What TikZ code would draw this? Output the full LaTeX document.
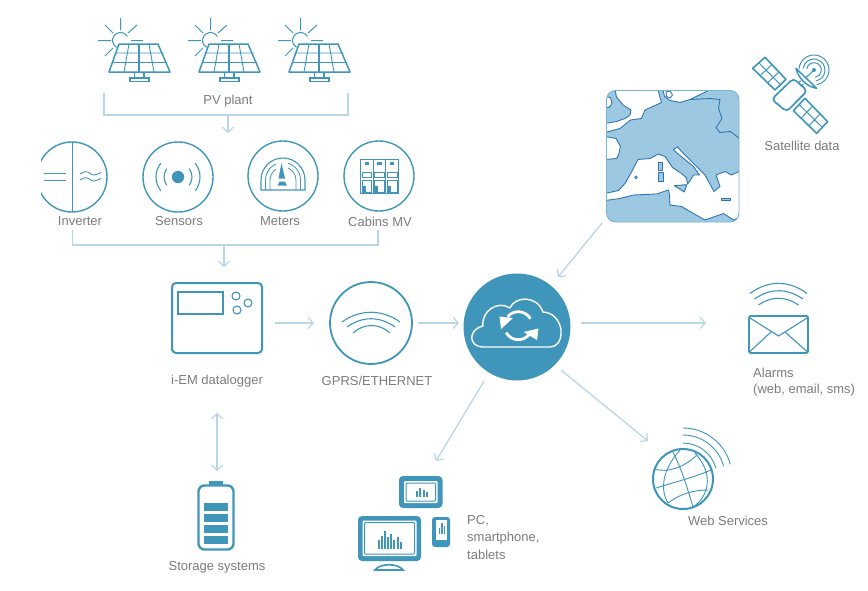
\documentclass[tikz,border=0pt]{standalone}
\usepackage{fontspec}
\setmainfont{Liberation Sans}
\usetikzlibrary{arrows.meta}
\definecolor{icon}{HTML}{3F96BA}
\definecolor{flow}{HTML}{B9D6E6}
\definecolor{sea}{HTML}{9CC8E1}
\definecolor{coast}{HTML}{2F75AE}
\definecolor{txt}{HTML}{7C7C7C}
\tikzset{
  ico/.style={draw=icon,line width=1.1pt},
  icob/.style={draw=icon,line width=1.9pt,line join=round},
  disc/.style={draw=icon,line width=1.4pt,fill=white},
  flowline/.style={draw=flow,line width=1.3pt},
  flowarrow/.style={flowline,-{Straight Barb[length=5pt,width=11pt,line width=1.2pt]}},
  flowboth/.style={flowline,{Straight Barb[length=5pt,width=11pt,line width=1.2pt]}-{Straight Barb[length=5pt,width=11pt,line width=1.2pt]}},
  lab/.style={text=txt,font=\fontsize{13}{16}\selectfont,inner sep=0pt},
}
\begin{document}
\begin{tikzpicture}[x=1pt,y=1pt,yscale=-1]
\useasboundingbox (0,0) rectangle (868,590);
\fill[white] (0,0) rectangle (868,590);

% ---- Map
\begin{scope}
\clip[rounded corners=9pt] (606.5,90.5) rectangle (739,222);
\fill[sea] (606,90) rectangle (739.5,222.5);
\begin{scope}[draw=coast,line width=.9pt,line join=round,fill=white]
\filldraw (615,90)--(616.5,97)--(623,105)--(631,110)--(630,115)--(625,118.5)--(616.5,121.5)--(605,123.5)--(605,132.5)--(620,128.5)--(630.5,120)--(641.5,118.5)--(645,110)--(661.5,102.5)--(658,90)--cycle;
\filldraw (605,96.5)--(610.5,97.5)--(612,103.5)--(609,107.5)--(605,107)--cycle;
\filldraw (663,90)--(664.5,96.5)--(670,100.5)--(680,102.5)--(690,99.5)--(709.5,90)--cycle;
\draw (666,92)--(670,91)--(672.5,95)--(670,98)--(666.5,96.5)--cycle;
\draw (690,99.5)--(710,98.5)--(720,99.5)--(718.5,108.5)--(722,118.5)--(716,127.5)--(720,132.5)--(730.5,131.5)--(740,139);
\filldraw (605,136.5)--(616,138.5)--(620.5,146.5)--(618.5,155)--(616.5,158.5)--(605,159.5)--cycle;
\fill[sea] (658.7,162) rectangle (662,170.7);
\fill[sea] (658.3,172.7) rectangle (663.3,181);
\fill[sea] (721.7,198) rectangle (730.7,200);
\fill[sea] (674.3,185.7)--(686.7,184.7)--(684.3,192)--cycle;
\end{scope}
\end{scope}
\begin{scope}
\clip[rounded corners=9pt] (606.5,90.5) rectangle (739,222);
\begin{scope}[even odd rule]
\fill[white] (605,193.5)--(618.5,190.5)--(625,183.5)--(631.5,172)--(638,159.5)--(650,158.5)--(658.5,154)--(665,156.5)--(672.5,167.5)--(681.5,173.5)--(686.5,178)--(687.5,184)--(674.3,185.7)--(684.3,192)--(668.5,190)--(656.5,194)--(633.5,195)--(620,198.5)--(605,200.5)--cycle
  (658.7,162) rectangle (662,170.7) (658.3,172.7) rectangle (663.3,181);
\fill[white] (687.5,184)--(690.5,180)--(693.5,175)--(699.5,175)--(693.5,166.5)--(685,159.5)--(677.5,153.5)--(673.5,149.5)--(677.5,147)--(681.5,151.5)--(690,160)--(698.5,168.5)--(705,175)--(710.5,185)--(714,191.5)--(720,186.5)--(716,175)--(725,171.5)--(731.5,175)--(741,170.5)--(741,216.5)--(733.5,220)--(723.5,213.5)--(705,220)--(693.5,213.5)--(681.5,206.5)--(670,205)--(669.5,195)--(668.5,190)--(684.3,192)--cycle
  (721.7,198) rectangle (730.7,200);
\end{scope}
\begin{scope}[draw=coast,line width=.9pt,line join=round]
\draw (605,193.5)--(618.5,190.5)--(625,183.5)--(631.5,172)--(638,159.5)--(650,158.5)--(658.5,154)--(665,156.5)--(672.5,167.5)--(681.5,173.5)--(686.5,178)--(687.5,184)--(690.5,180)--(693.5,175)--(699.5,175)--(693.5,166.5)--(685,159.5)--(677.5,153.5)--(673.5,149.5)--(677.5,147)--(681.5,151.5)--(690,160)--(698.5,168.5)--(705,175)--(710.5,185)--(714,191.5)--(720,186.5)--(716,175)--(725,171.5)--(731.5,175)--(741,170.5);
\draw (741,216.5)--(733.5,220)--(723.5,213.5)--(705,220)--(693.5,213.5)--(681.5,206.5)--(670,205)--(669.5,195)--(668.5,190)--(656.5,194)--(633.5,195)--(620,198.5)--(605,200.5);
\draw (674.3,185.7)--(686.7,184.7)--(684.3,192)--cycle;
\draw (658.7,162) rectangle (662,170.7);
\draw (658.3,172.7) rectangle (663.3,181);
\draw (636,177.3) circle[radius=1.4];
\draw (721.7,198) rectangle (730.7,200);
\end{scope}
\end{scope}
\draw[draw=icon!70!white,line width=.9pt,rounded corners=9pt] (606.5,90.5) rectangle (739,222);
\coordinate (mapS) at (602,223);

% ---- PV plant
\foreach \d in {0,90,180}{
  \begin{scope}[xshift=\d pt]
    \draw[ico,line width=1pt] (120.7,18)--(120.7,30) (98,40.5)--(111,40.5) (131,40.5)--(143,40.5)
      (105,25)--(113,33) (137,25)--(128,33) (105,56)--(113,48);
    \draw[ico,line width=1pt] ([shift={(-30:8)}]120.5,40.5) arc[start angle=-30,end angle=-240,radius=8];
    \fill[white] (119,44)--(158,44)--(170,72)--(109,72)--cycle;
    \draw[ico,line width=.9pt] (114.5,53)--(163.5,53) (112,62.5)--(167,62.5)
       (129,44)--(124,72) (149,44)--(154,72);
    \draw[ico,line width=1.2pt] (139,44)--(139,72);
    \draw[icob,line width=1.5pt] (119,44)--(158,44)--(170,72)--(109,72)--cycle;
    \draw[ico] (134.5,72)--(134.5,78) (144,72)--(144,78);
    \draw[ico,line width=1.3pt] (130,78) rectangle (149,81.5);
  \end{scope}
}
\coordinate (brA) at (104,93);
\coordinate (brB) at (348,93);
\coordinate (brL) at (104,115);
\coordinate (brR) at (348,115);
\coordinate (brM) at (228,115);
\coordinate (brT) at (228,133);
\draw[flowline] (brA)--(brL)--(brR)--(brB);
\draw[flowarrow] (brM)--(brT);
\node[lab] (pvlab) at (228,101) {PV plant};

% ---- Inverter
\begin{scope}
\clip (41,130) rectangle (120,225);
\node[circle,disc,minimum size=70pt,inner sep=0pt] (inv) at (72,177) {};
\end{scope}
\draw[ico] (72.6,142)--(72.6,212);
\draw[ico,line width=.9pt] (44,173.5)--(66,173.5) (44,180)--(66,180);
\draw[ico,line width=.9pt] (80,174) .. controls (85,171) and (87,171) .. (90,173.5) .. controls (93,176) and (96,175) .. (101,172.5);
\draw[ico,line width=.9pt] (80,180) .. controls (85,177) and (87,177) .. (90,179.5) .. controls (93,182) and (96,181) .. (101,178.5);
\node[lab] (invlab) at (80,221) {Inverter};

% ---- Sensors
\node[circle,disc,minimum size=70pt,inner sep=0pt] (sen) at (178,177) {};
\fill[icon] (178,177) circle[radius=6.2];
\foreach \a/\r in {-35/14,-38/22}{
  \draw[ico,line cap=round] ([shift={(\a:\r)}]178,177) arc[start angle=\a,end angle=-\a,radius=\r];
  \draw[ico,line cap=round] ([shift={(180-\a:\r)}]178,177) arc[start angle=180-\a,end angle=180+\a,radius=\r];
}
\node[lab] (senlab) at (179,221) {Sensors};

% ---- Meters
\node[circle,disc,minimum size=70pt,inner sep=0pt] (met) at (283,176) {};
\draw[ico] (261,190)--(261,180) arc[start angle=180,end angle=360,radius=22]--(305,190)--cycle;
\draw[ico,line width=.8pt] (265.5,190)--(265.5,180) arc[start angle=180,end angle=360,radius=17.5]--(300.5,190);
\draw[ico,line width=.8pt] (270,190)--(270,180) arc[start angle=180,end angle=360,radius=13]--(296,190);
\fill[white] (276,160) rectangle (288,186);
\fill[icon] (281.5,163)--(278.5,178.5)--(285,178.5)--cycle;
\fill[icon] (279.5,181.5)--(285,181.5)--(287,185.5)--(277.5,185.5)--cycle;
\node[lab] (metlab) at (280,221) {Meters};

% ---- Cabins
\node[circle,disc,minimum size=70pt,inner sep=0pt] (cab) at (379,176) {};
\foreach \d in {0,12.7,25.4}{
  \begin{scope}[xshift=\d pt]
    \draw[ico,line width=.8pt] (360.3,159.3) rectangle (373,193.3);
    \fill[icon] (364.5,161.5) rectangle (369,164.5);
    \draw[ico,line width=.7pt] (362,172) rectangle (371.5,177);
    \draw[ico,line width=.7pt] (362,180) rectangle (371.5,192);
    \fill[icon] (362.5,186) rectangle (365.5,192);
  \end{scope}
}
\node[lab] (cablab) at (380,222) {Cabins MV};

% ---- second bracket
\coordinate (bsA) at (72.6,230);
\coordinate (bsB) at (378,230);
\coordinate (bsL) at (72.6,245);
\coordinate (bsR) at (378,245);
\coordinate (bsM) at (224,245);
\coordinate (bsT) at (224,267);
\draw[flowline] (bsA)--(bsL)--(bsR)--(bsB);
\draw[flowarrow] (bsM)--(bsT);

% ---- Datalogger
\node[draw=icon,line width=2pt,minimum width=90pt,minimum height=70pt,rounded corners=4pt,inner sep=0pt] (log) at (217,318) {};
\draw[ico] (178,292) rectangle (223,314);
\draw[ico] (236,296) circle[radius=4] (248,303) circle[radius=4] (237,310) circle[radius=4];
\node[lab] (loglab) at (217,381) {i-EM datalogger};

% ---- GPRS
\node[circle,draw=icon,line width=1.8pt,minimum size=82pt,inner sep=0pt] (gprs) at (371,323) {};
\draw[ico] (342,322) .. controls (360,309) and (382,309) .. (400,322);
\draw[ico] (347,327) .. controls (362,316) and (380,316) .. (395,327);
\draw[ico] (353,333) .. controls (364,323) and (379,323) .. (390,333);
\node[lab] (gprslab) at (377,381) {GPRS/ETHERNET};

% ---- Cloud
\node[circle,fill=icon,minimum size=107pt,inner sep=0pt] (cloud) at (517,327) {};
\draw[white,line width=1.4pt,line join=round]
  (483,347) .. controls (469,347) and (467,330) .. (483,326)
  .. controls (481,311) and (498,300) .. (510,308)
  .. controls (515,296) and (537,295) .. (543,312)
  .. controls (555,312) and (562,325) .. (561,333)
  .. controls (561,341) and (557,347) .. (550,347) -- cycle;
\draw[white,line width=2.8pt] ([shift={(-30:14)}]518.3,325.7) arc[start angle=-30,end angle=-140,radius=14];
\draw[white,line width=2.8pt] ([shift={(150:14)}]518.3,325.7) arc[start angle=150,end angle=35,radius=14];
\fill[white] (499.5,316.5)--(513,318)--(501,329)--cycle;
\fill[white] (523.5,332)--(538.5,328.5)--(537,340)--cycle;

% ---- Satellite
\begin{scope}[shift={(590,40)},scale=0.33333]
\draw[icob,line width=1.6pt] (525,52)--(588,118)--(555,150)--(488,85)--cycle;
\draw[ico,line width=1pt] (506,68)--(571,134) (546,74)--(510,107) (567,96)--(532,129);
\draw[icob,line width=1.6pt] (645,175)--(713,245)--(680,280)--(610,212)--cycle;
\draw[ico,line width=1pt] (627,193)--(697,262) (668,198)--(633,235) (690,222)--(657,257);
\draw[icob,line width=1.7pt,rounded corners=4pt] (610,115)--(652,152)--(590,215)--(545,178)--cycle;
\draw[icob,line width=1.5pt,fill=white] (618,85) .. controls (625,115) and (650,140) .. (680,145)--cycle;
\draw[ico] (632,122)--(625,130) (640,132)--(633,140);
\draw[ico] (672,90)--(648,113);
\fill[icon] (672,90) circle[radius=6];
\foreach \r/\s in {22/-170,33/-172,45/-175}{
  \draw[ico,line width=1pt] ([shift={(\s:\r)}]672,90) arc[start angle=\s,end angle=80,radius=\r];
}
\end{scope}
\node[lab] (satlab) at (802,146) {Satellite data};

% ---- Alarms
\node[draw=icon,line width=1.9pt,minimum width=59pt,minimum height=37pt,rounded corners=2pt,inner sep=0pt] (mail) at (778.5,334.5) {};
\draw[ico] (750,318)--(778.5,336)--(807,318) (750,351.5)--(771,332) (807,351.5)--(785,332);
\draw[ico] (750,293.5) .. controls (768,280) and (789,280) .. (807,293.5);
\draw[ico] (754.5,299) .. controls (770,288) and (787,288) .. (803,299);
\draw[ico] (758.5,305) .. controls (771,296) and (786,296) .. (798.5,305);
\node[lab,anchor=west] (alab1) at (753,373) {Alarms};
\node[lab,anchor=west] (alab2) at (753,390) {(web, email, sms)};

% ---- Globe
\node[circle,draw=icon,line width=2pt,minimum size=60pt,inner sep=0pt] (globe) at (683,479) {};
\draw[ico,line width=.9pt]
 (654,469) .. controls (668,473) and (683,468) .. (697,455)
 (656,488) .. controls (675,482) and (695,477) .. (711,470)
 (668,503) .. controls (680,494) and (693,490) .. (708,490)
 (673,452) .. controls (682,470) and (688,490) .. (693,507)
 (680,450) .. controls (662,470) and (660,490) .. (668,503)
 (695,453) .. controls (715,475) and (708,497) .. (693,507);
\foreach \r in {34,42,49}{
  \draw[ico,line width=.9pt] ([shift={(-90:\r)}]683,477) arc[start angle=-90,end angle=-15,radius=\r];
}
\node[lab] (weblab) at (728,521) {Web Services};

% ---- Battery
\node[draw=icon,line width=2.4pt,minimum width=35pt,minimum height=64pt,rounded corners=6pt,inner sep=0pt] (bat) at (216,517.5) {};
\fill[icon] (209,481) rectangle (223,485);
\foreach \y in {503,514,525,536}{ \fill[icon] (204,\y) rectangle (228,\y+8); }
\node[lab] (batlab) at (217,567) {Storage systems};

% ---- Devices
\fill[icon,rounded corners=4pt] (399,476) rectangle (442.5,508);
\fill[white,rounded corners=1pt] (404,481) rectangle (437.5,503);
\draw[icon,line width=1pt,rounded corners=1pt] (406,483) rectangle (435.5,501);
\foreach \x/\h in {415.5/6,419/9,422.5/7,426/5}{ \fill[icon] (\x,497)rectangle(\x+2,497-\h); }
\fill[icon,rounded corners=4pt] (358,516) rectangle (421,561);
\fill[white,rounded corners=1pt] (362.5,520.5) rectangle (416.5,556);
\draw[icon,line width=1pt,rounded corners=1pt] (364.5,522.5) rectangle (414.5,554);
\foreach \x/\h in {378/9,381/13,384/18,387/12,390/15,393/9,396.5/12,400/7}{ \fill[icon] (\x,549)rectangle(\x+2,549-\h); }
\draw[icon,line width=1.6pt,line cap=round] (375,570) .. controls (380,563) and (398,563) .. (403,570)--cycle;
\fill[icon,rounded corners=3pt] (432,517) rectangle (450,547);
\fill[white] (435.5,520) rectangle (446.5,540);
\foreach \x/\h in {438.5/6,441/11,443.5/8}{ \fill[icon] (\x,534)rectangle(\x+1.6,534-\h); }
\node[lab,anchor=west] (dev1) at (467,521) {PC,};
\node[lab,anchor=west] (dev2) at (467,538) {smartphone,};
\node[lab,anchor=west] (dev3) at (467,555) {tablets};

% ---- connectors
\coordinate (a1) at (275,323); \coordinate (a2) at (314,323);
\draw[flowarrow] (a1)--(a2);
\coordinate (a3) at (418,323); \coordinate (a4) at (459,323);
\draw[flowarrow] (a3)--(a4);
\coordinate (a5) at (558,277);
\draw[flowarrow] (mapS)--(a5);
\coordinate (a6) at (581,323); \coordinate (a7) at (706,323);
\draw[flowarrow] (a6)--(a7);
\coordinate (a8) at (561,370); \coordinate (a9) at (648,441);
\draw[flowarrow] (a8)--(a9);
\coordinate (a10) at (484,381); \coordinate (a11) at (436,461);
\draw[flowarrow] (a10)--(a11);
\coordinate (a12) at (217,413); \coordinate (a13) at (217,471);
\draw[flowboth] (a12)--(a13);
\end{tikzpicture}
\end{document}
